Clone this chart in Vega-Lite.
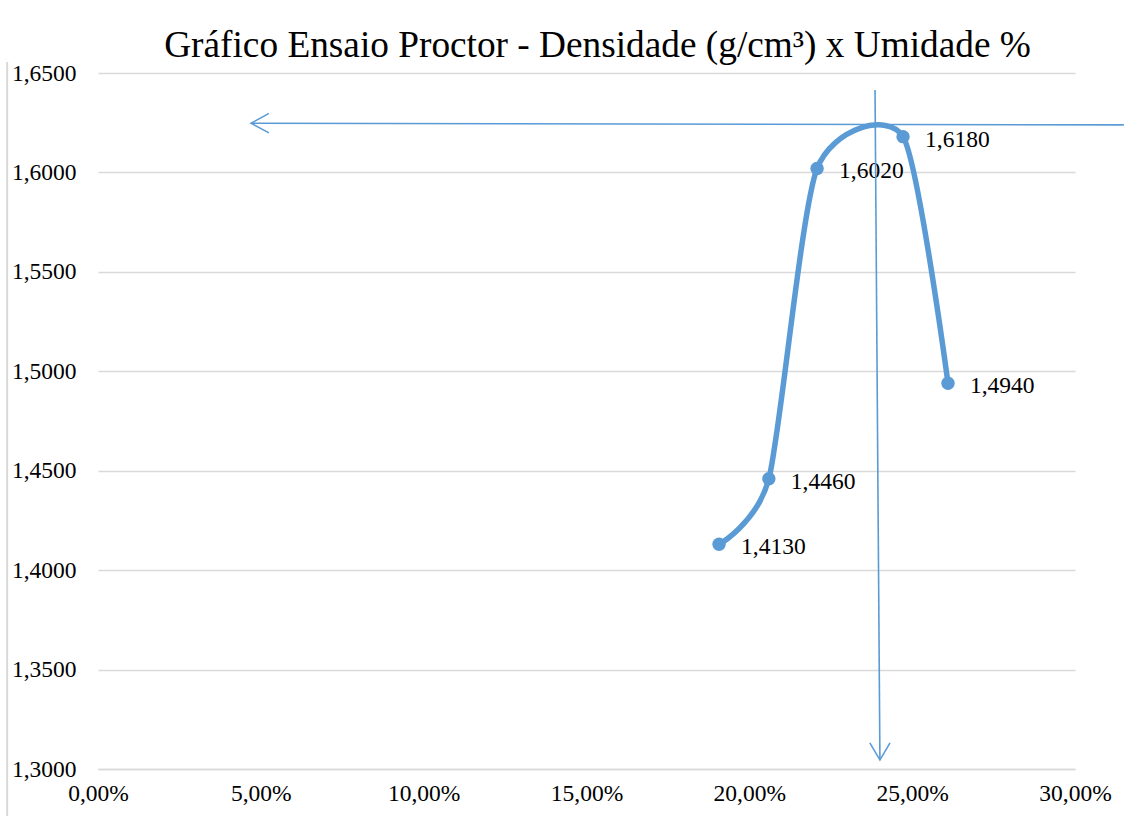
{
  "$schema": "https://vega.github.io/schema/vega-lite/v6.json",
  "autosize": "none",
  "width": 977,
  "height": 696,
  "padding": {"left": 98, "top": 73, "right": 49, "bottom": 47},
  "background": "white",
  "config": {
    "locale": {"number": {"decimal": ",", "thousands": ".", "grouping": [3], "currency": ["R$", ""]}},
    "font": "Liberation Serif",
    "view": {"stroke": null}
  },
  "title": {
    "text": "Gráfico Ensaio Proctor - Densidade (g/cm³) x Umidade %",
    "font": "Liberation Serif",
    "fontSize": 37.3,
    "fontWeight": "normal",
    "color": "#000000",
    "anchor": "middle",
    "frame": "group",
    "baseline": "alphabetic",
    "offset": 12,
    "dy": 45,
    "dx": 11
  },
  "datasets": {
    "pts": [
      {"umidade": 0.1907, "densidade": 1.413},
      {"umidade": 0.2060, "densidade": 1.446},
      {"umidade": 0.2208, "densidade": 1.602},
      {"umidade": 0.2472, "densidade": 1.618},
      {"umidade": 0.2610, "densidade": 1.494}
    ],
    "arrows": [
      {"seg": "h", "o": 1, "umidade": 0.315, "densidade": 1.6239},
      {"seg": "h", "o": 2, "umidade": 0.047, "densidade": 1.6247},
      {"seg": "hh", "o": 1, "umidade": 0.0525, "densidade": 1.6297},
      {"seg": "hh", "o": 2, "umidade": 0.047, "densidade": 1.6247},
      {"seg": "hh", "o": 3, "umidade": 0.0525, "densidade": 1.6199},
      {"seg": "v", "o": 1, "umidade": 0.2386, "densidade": 1.6415},
      {"seg": "v", "o": 2, "umidade": 0.2401, "densidade": 1.3045},
      {"seg": "vh", "o": 1, "umidade": 0.2370, "densidade": 1.3131},
      {"seg": "vh", "o": 2, "umidade": 0.2401, "densidade": 1.3045},
      {"seg": "vh", "o": 3, "umidade": 0.2432, "densidade": 1.3131}
    ],
    "border": [
      {"umidade": -0.0279, "top": 1.6555, "bottom": 1.2764}
    ]
  },
  "layer": [
    {
      "data": {"name": "border"},
      "mark": {"type": "rule", "color": "#d9d9d9", "strokeWidth": 2, "clip": false},
      "encoding": {
        "x": {"field": "umidade", "type": "quantitative"},
        "y": {"field": "top", "type": "quantitative"},
        "y2": {"field": "bottom"}
      }
    },
    {
      "data": {"name": "pts"},
      "mark": {"type": "line", "interpolate": "cardinal", "tension": 0.3, "color": "#5b9bd5", "strokeWidth": 5.5},
      "encoding": {
        "x": {
          "field": "umidade", "type": "quantitative",
          "scale": {"domain": [0, 0.3], "nice": false, "zero": false},
          "axis": {
            "title": null, "format": ".2%", "values": [0, 0.05, 0.1, 0.15, 0.2, 0.25, 0.3],
            "labelFont": "Liberation Serif", "labelFontSize": 23.5, "labelColor": "#000000",
            "labelFlush": false,
            "ticks": false, "grid": false, "domainColor": "#d9d9d9", "domainWidth": 1.5,
            "labelPadding": 12
          }
        },
        "y": {
          "field": "densidade", "type": "quantitative",
          "scale": {"domain": [1.3, 1.65], "nice": false, "zero": false},
          "axis": {
            "title": null, "format": ".4f", "values": [1.3, 1.35, 1.4, 1.45, 1.5, 1.55, 1.6, 1.65],
            "labelFont": "Liberation Serif", "labelFontSize": 23.5, "labelColor": "#000000",
            "labelFlush": false,
            "ticks": false, "domain": false, "grid": true, "gridColor": "#d9d9d9", "gridWidth": 1.5,
            "labelPadding": 22
          }
        }
      }
    },
    {
      "data": {"name": "pts"},
      "mark": {"type": "circle", "color": "#5b9bd5", "opacity": 1, "size": 180},
      "encoding": {
        "x": {"field": "umidade", "type": "quantitative"},
        "y": {"field": "densidade", "type": "quantitative"}
      }
    },
    {
      "data": {"name": "pts"},
      "mark": {"type": "text", "align": "left", "baseline": "middle", "dx": 22, "dy": 3, "font": "Liberation Serif", "fontSize": 23.5, "color": "#000000"},
      "encoding": {
        "x": {"field": "umidade", "type": "quantitative"},
        "y": {"field": "densidade", "type": "quantitative"},
        "text": {"field": "densidade", "type": "quantitative", "format": ".4f"}
      }
    },
    {
      "data": {"name": "arrows"},
      "mark": {"type": "line", "color": "#5b9bd5", "strokeWidth": 1.6, "clip": false},
      "encoding": {
        "x": {"field": "umidade", "type": "quantitative"},
        "y": {"field": "densidade", "type": "quantitative"},
        "detail": {"field": "seg"},
        "order": {"field": "o", "type": "quantitative"}
      }
    }
  ]
}
